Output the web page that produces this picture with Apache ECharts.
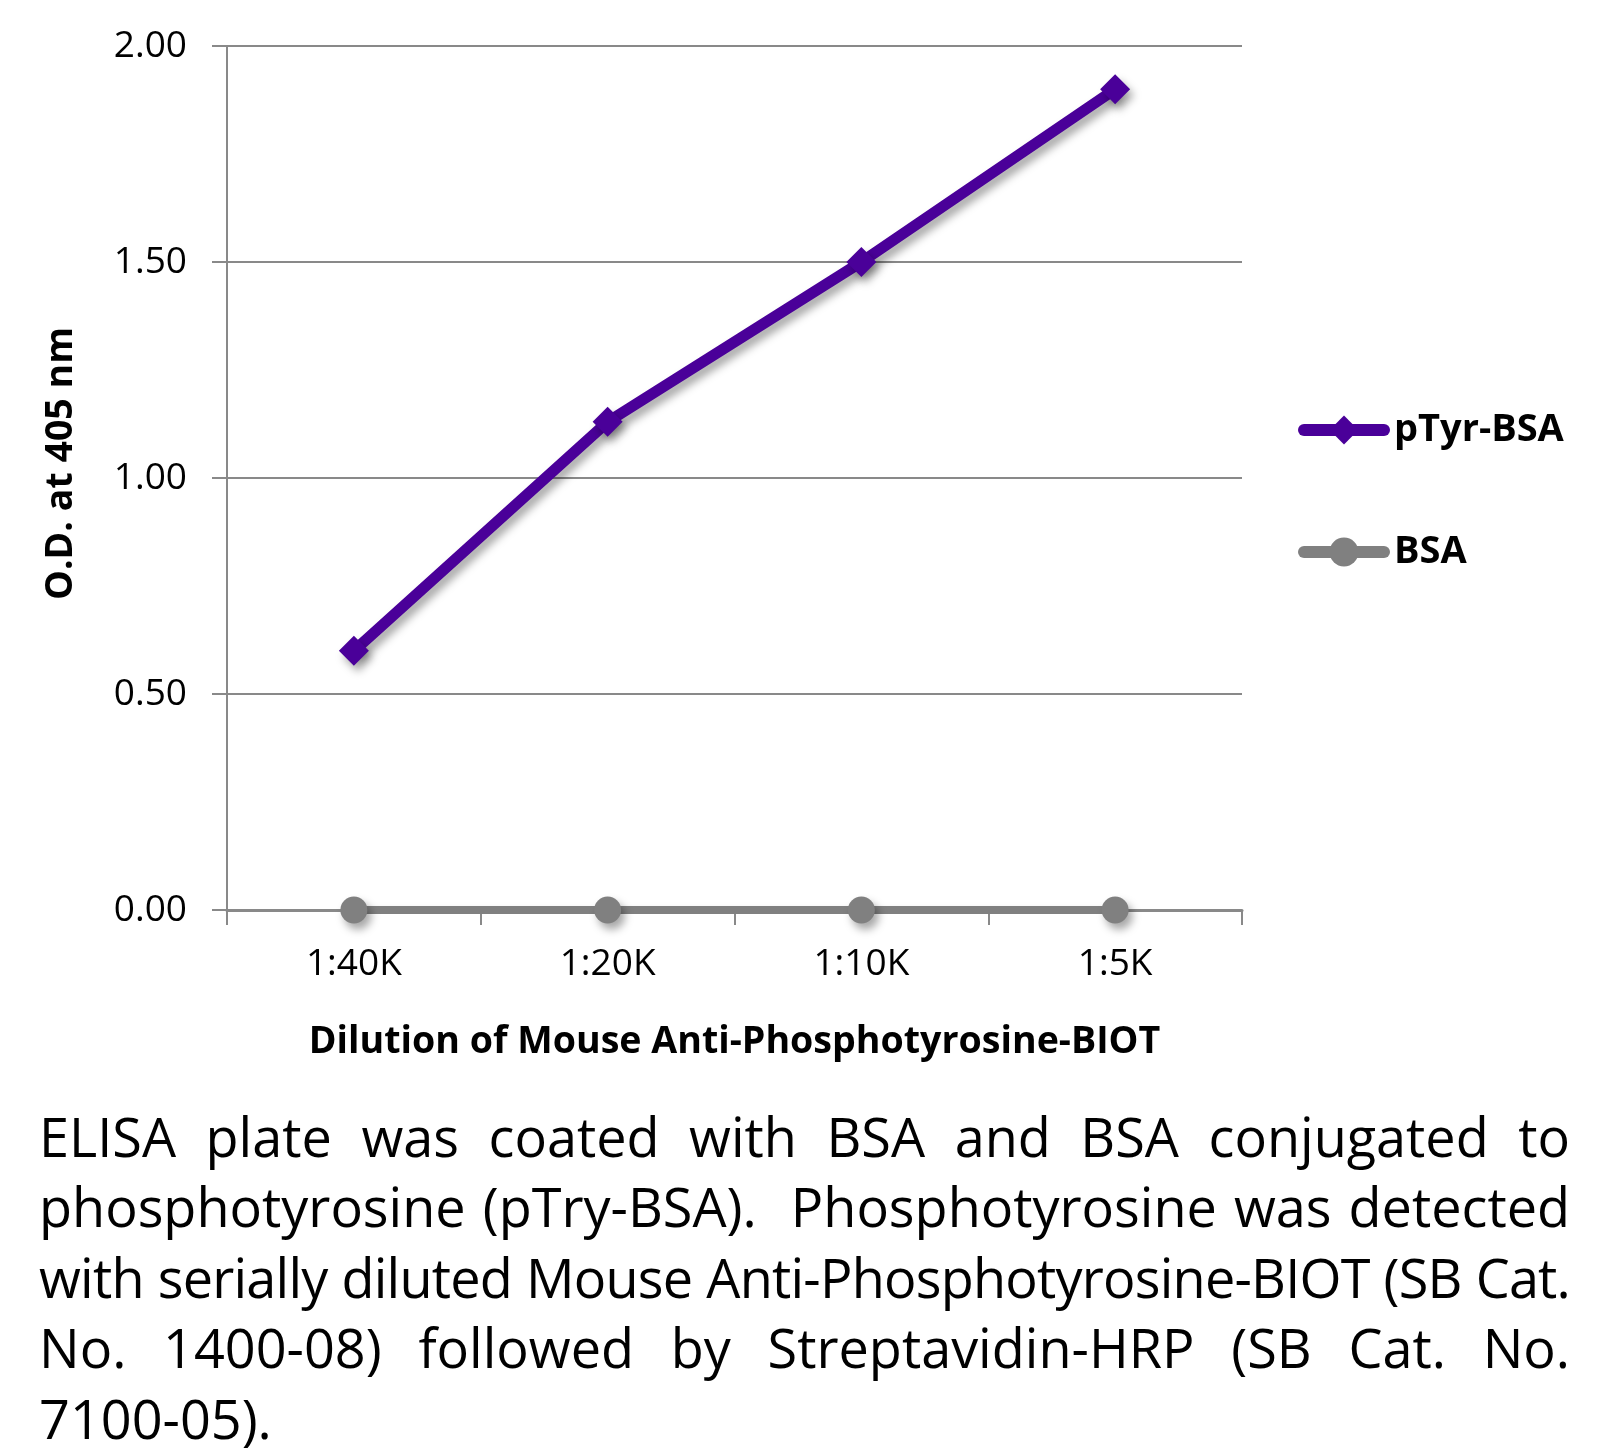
<!DOCTYPE html>
<html>
<head>
<meta charset="utf-8">
<script src="https://cdn.jsdelivr.net/npm/echarts@6/dist/echarts.min.js"></script>
<style>
  html, body { margin: 0; padding: 0; background: #fff; }
  #chart { position: absolute; left: 0; top: 0; width: 1611px; height: 1452px; }
  #caption { position: absolute; left: 39px; top: 1101px; width: 1531px;
    font-family: "Open Sans", "Noto Sans", sans-serif; font-size: 54px; line-height: 70.4px; color: #000; }
  #caption .j { text-align: justify; text-align-last: justify; white-space: nowrap; }
  #caption .l { text-align: left; white-space: nowrap; }
</style>
</head>
<body>
<div id="chart"></div>
<div id="caption"></div>
<script>
const categories = ['1:40K', '1:20K', '1:10K', '1:5K'];
const ptyrBsa = [0.60, 1.13, 1.50, 1.90];
const bsa = [0.00, 0.00, 0.00, 0.00];
const yTicks = { min: 0, max: 2, interval: 0.5 };
const seriesNames = ['pTyr-BSA', 'BSA'];
const xTitle = 'Dilution of Mouse Anti-Phosphotyrosine-BIOT';
const yTitle = 'O.D. at 405 nm';
const captionLines = [
  'ELISA plate was coated with BSA and BSA conjugated to',
  'phosphotyrosine (pTry-BSA).\u00a0 Phosphotyrosine was detected',
  'with serially diluted Mouse Anti-Phosphotyrosine-BIOT (SB Cat.',
  'No. 1400-08) followed by Streptavidin-HRP (SB Cat. No.',
  '7100-05).'
];

const FONT = '"Open Sans", "Noto Sans", sans-serif';
const AXIS_GRAY = '#898989';
const PURPLE = '#4a0099';
const GRAY = '#808080';
const noShadow = { shadowBlur: 0, shadowOffsetX: 0, shadowOffsetY: 0 };

const chart = echarts.init(document.getElementById('chart'), null, { renderer: 'canvas' });
chart.setOption({
  animation: false,
  backgroundColor: '#fff',
  textStyle: { fontFamily: FONT },
  grid: { left: 227, top: 46, width: 1015, height: 864, containLabel: false },
  legend: {
    orient: 'vertical',
    left: 1293,
    top: 405,
    itemWidth: 80,
    itemHeight: 36,
    itemGap: 82,
    data: [
      { name: seriesNames[0], lineStyle: Object.assign({ color: PURPLE, width: 12, cap: 'round' }, noShadow), itemStyle: Object.assign({}, noShadow) },
      { name: seriesNames[1], lineStyle: Object.assign({ color: GRAY, width: 12, cap: 'round' }, noShadow), itemStyle: Object.assign({}, noShadow) }
    ],
    textStyle: { fontFamily: FONT, fontSize: 38, fontWeight: 'bold', color: '#000', lineHeight: 40, padding: [0, 0, 0, 5] }
  },
  xAxis: {
    type: 'category',
    data: categories,
    boundaryGap: true,
    name: xTitle,
    nameLocation: 'middle',
    nameGap: 113,
    nameTextStyle: { fontFamily: FONT, fontSize: 37.6, fontWeight: 'bold', color: '#000' },
    axisLine: { show: true, lineStyle: { color: AXIS_GRAY, width: 3 } },
    axisTick: { show: true, length: 15, alignWithLabel: false, lineStyle: { color: AXIS_GRAY, width: 2 } },
    axisLabel: { margin: 36, fontFamily: FONT, fontSize: 37, color: '#000' },
    splitLine: { show: false }
  },
  yAxis: {
    type: 'value',
    min: yTicks.min,
    max: yTicks.max,
    interval: yTicks.interval,
    name: yTitle,
    nameLocation: 'middle',
    nameRotate: 90,
    nameGap: 147,
    nameTextStyle: { fontFamily: FONT, fontSize: 37.5, fontWeight: 'bold', color: '#000', padding: [0, 0, 0, 29] },
    axisLine: { show: true, lineStyle: { color: AXIS_GRAY, width: 2 } },
    axisTick: { show: true, length: 15, lineStyle: { color: AXIS_GRAY, width: 2 } },
    axisLabel: { margin: 40, fontFamily: FONT, fontSize: 37, color: '#000',
      formatter: v => v.toFixed(2) },
    splitLine: { show: true, lineStyle: { color: AXIS_GRAY, width: 2 } }
  },
  series: [
    {
      name: seriesNames[0],
      type: 'line',
      data: ptyrBsa,
      symbol: 'diamond',
      symbolSize: 30,
      z: 3,
      lineStyle: { color: PURPLE, width: 11, shadowColor: 'rgba(0,0,0,0.35)', shadowBlur: 9, shadowOffsetX: 4, shadowOffsetY: 6 },
      itemStyle: { color: PURPLE, shadowColor: 'rgba(0,0,0,0.35)', shadowBlur: 9, shadowOffsetX: 4, shadowOffsetY: 6 }
    },
    {
      name: seriesNames[1],
      type: 'line',
      data: bsa,
      symbol: 'circle',
      symbolSize: 27,
      z: 4,
      lineStyle: { color: GRAY, width: 8, shadowColor: 'rgba(0,0,0,0.35)', shadowBlur: 9, shadowOffsetX: 4, shadowOffsetY: 6 },
      itemStyle: { color: GRAY, shadowColor: 'rgba(0,0,0,0.35)', shadowBlur: 9, shadowOffsetX: 4, shadowOffsetY: 6 }
    }
  ]
});

// caption
const cap = document.getElementById('caption');
const W = 1531;
captionLines.forEach((t, i) => {
  const d = document.createElement('div');
  d.className = i < captionLines.length - 1 ? 'j' : 'l';
  d.textContent = t;
  cap.appendChild(d);
});
Array.from(cap.children).forEach(d => {
  const s = document.createElement('span');
  s.style.whiteSpace = 'nowrap';
  s.textContent = d.textContent;
  s.style.visibility = 'hidden';
  s.style.position = 'absolute';
  cap.appendChild(s);
  const w = s.getBoundingClientRect().width;
  cap.removeChild(s);
  if (w > W - 2) {
    const n = d.textContent.length;
    d.style.letterSpacing = ((W - 4 - w) / n).toFixed(3) + 'px';
  }
});
</script>
</body>
</html>
